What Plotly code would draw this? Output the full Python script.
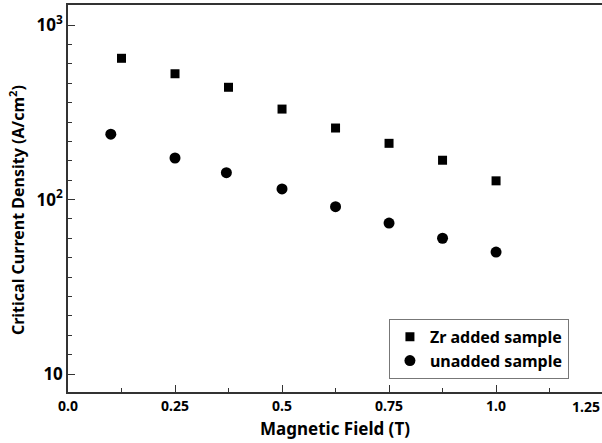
import numpy as np
import plotly.graph_objects as go

zr_field = [0.125, 0.25, 0.375, 0.5, 0.625, 0.75, 0.875, 1.0]
zr_jc = [645, 526, 440, 330, 257, 210, 168, 128]
un_field = [0.1, 0.25, 0.37, 0.5, 0.625, 0.75, 0.875, 1.0]
un_jc = [237, 173, 142.5, 115, 91, 73.3, 60, 50]

x_tickvals = [0, 0.25, 0.5, 0.75, 1.0]
x_ticktext = ["0.0", "0.25", "0.5", "0.75", "1.0"]
x_minor = [0.125, 0.375, 0.625, 0.875, 1.125]
y_tickvals = [10, 100, 1000]
y_ticktext = ["10", "10<sup>2</sup>", "10<sup>3</sup>"]
y_minor = [10 ** (1 + k / 9) for k in range(1, 19) if k != 9]

FONT = "Noto Sans"
AX = "#333333"

fig = go.Figure()
fig.add_trace(go.Scatter(x=zr_field, y=zr_jc, mode="markers", name="Zr added sample",
                         marker=dict(symbol="square", size=9, color="black")))
fig.add_trace(go.Scatter(x=un_field, y=un_jc, mode="markers", name="unadded sample",
                         marker=dict(symbol="circle", size=11, color="black")))

fig.update_layout(
    width=602, height=443,
    margin=dict(l=68, r=0, t=5, b=51),
    paper_bgcolor="white", plot_bgcolor="white",
    font=dict(family=FONT, color="black"),
    showlegend=True,
    legend=dict(x=0.601, y=0.189, xanchor="left", yanchor="top",
                bordercolor="#777777", borderwidth=1, bgcolor="white",
                font=dict(family=FONT, size=16, weight="bold", color="black"),
                tracegroupgap=0),
    xaxis=dict(range=[0, 1.2475], showgrid=False, zeroline=False,
               showline=True, linecolor=AX, linewidth=1.5, mirror=True,
               ticks="inside", ticklen=7, tickcolor=AX, tickwidth=1.2,
               tickmode="array", tickvals=x_tickvals, ticktext=x_ticktext,
               tickfont=dict(family=FONT, size=14, weight="bold"),
               minor=dict(tickmode="array", tickvals=x_minor, ticks="inside",
                          ticklen=4, tickcolor=AX, tickwidth=1.2),
               title=dict(text="Magnetic Field (T)", standoff=10,
                          font=dict(family=FONT, size=17, weight="bold"))),
    yaxis=dict(type="log", range=[0.897, 3.115], showgrid=False, zeroline=False,
               showline=True, linecolor=AX, linewidth=1.5,
               ticks="inside", ticklen=7, tickcolor=AX, tickwidth=1.2,
               tickmode="array", tickvals=y_tickvals, ticktext=y_ticktext,
               tickfont=dict(family=FONT, size=17, weight="bold"),
               minor=dict(tickmode="array", tickvals=y_minor, ticks="inside",
                          ticklen=4, tickcolor=AX, tickwidth=1.2)),
)

fig.add_annotation(x=-0.0955, y=0.47, xref="paper", yref="paper", xanchor="center", yanchor="middle",
                   textangle=-90, text="Critical Current Density (A/cm<sup>2</sup>)", showarrow=False,
                   font=dict(family=FONT, size=16, weight="bold", color="black"))
fig.add_annotation(x=1.2475, y=0, xref="x", yref="paper", xanchor="right", yanchor="top",
                   yshift=-3, text="1.25", showarrow=False,
                   font=dict(family=FONT, size=14, weight="bold", color="black"))

fig.write_html("out.html", config={"displayModeBar": False},
               post_script="document.body.style.margin='0';document.body.style.overflow='hidden';")
